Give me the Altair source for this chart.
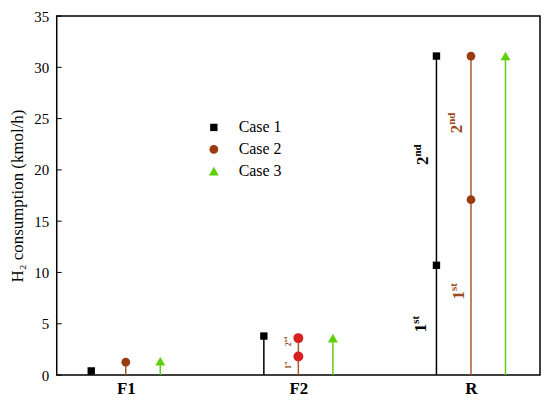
import altair as alt
import pandas as pd

# ---- data ----
categories = ["F1", "F2", "R"]
cat_pos = [1, 2, 3]
cases = ["Case 1", "Case 2", "Case 3"]
case_offset = [-0.2, 0.0, 0.2]

# points: category index, case, value
pt_cat = [1, 1, 1, 2, 2, 2, 2, 3, 3, 3, 3, 3]
pt_case = ["Case 1", "Case 2", "Case 3",
           "Case 1", "Case 2", "Case 2", "Case 3",
           "Case 1", "Case 1", "Case 2", "Case 2", "Case 3"]
pt_val = [0.4, 1.25, 1.35,
          3.8, 1.8, 3.6, 3.6,
          10.7, 31.1, 17.1, 31.1, 31.1]

# stems (from 0 to top value)
st_cat = [1, 1, 1, 2, 2, 2, 3, 3, 3]
st_case = ["Case 1", "Case 2", "Case 3"] * 3
st_top = [0.4, 1.25, 1.35, 3.8, 3.6, 3.6, 31.1, 31.1, 31.1]

# big stage labels (R) : x position, y position, main, superscript, case
lb_x = [2.737, 2.749, 2.962, 2.950]
lb_y = [5.0, 21.3, 8.2, 24.4]
lb_main = ["1", "2", "1", "2"]
lb_sup = ["st", "nd", "st", "nd"]
lb_case = ["Case 1", "Case 1", "Case 2", "Case 2"]

# small stage labels (F2)
sl_x = [1.959, 1.959]
sl_y = [0.97, 3.2]
sl_main = ["1", "2"]
sl_sup = ["st", "nd"]

y_ticks = [0, 5, 10, 15, 20, 25, 30, 35]

marker_colors = ["#000000", "#9b3b12", "#5fcf0a"]
line_colors = ["#000000", "#a65a2e", "#5fcf0a"]
label_colors = ["#000000", "#9b4a1e"]

off = dict(zip(cases, case_offset))
pts = pd.DataFrame({"cat": pt_cat, "Case": pt_case, "val": pt_val})
pts["x"] = pts["cat"] + pts["Case"].map(off)
stems = pd.DataFrame({"cat": st_cat, "stemCase": st_case, "top": st_top})
stems["x"] = stems["cat"] + stems["stemCase"].map(off)
labs = pd.DataFrame({"x": lb_x, "y": lb_y, "main": lb_main, "sup": lb_sup, "labCase": lb_case})
slabs = pd.DataFrame({"x": sl_x, "y": sl_y, "main": sl_main, "sup": sl_sup})
ticks = pd.DataFrame({"v": y_ticks})

FONT = "Liberation Serif"
xs = alt.Scale(domain=[0.6, 3.4], nice=False, zero=False)
ys = alt.Scale(domain=[0, 35], nice=False, zero=True)

label_expr = "datum.value == 1 ? 'F1' : datum.value == 2 ? 'F2' : 'R'"
x_axis = alt.Axis(values=cat_pos, labelExpr=label_expr, ticks=False, domain=False,
                  grid=False, title=None, labelFont=FONT, labelFontSize=17,
                  labelFontWeight="bold", labelColor="black", labelPadding=6)
y_axis = alt.Axis(values=y_ticks, ticks=False, domain=False, grid=False,
                  title="H₂ consumption (kmol/h)", titleFont=FONT, titleFontSize=17,
                  titleFontWeight="normal", titleColor="black", titlePadding=7,
                  labelFont=FONT, labelFontSize=15, labelColor="black", labelPadding=8)

X = lambda f: alt.X(f, scale=xs, axis=x_axis)
Y = lambda f: alt.Y(f, scale=ys, axis=y_axis)

stem_layer = alt.Chart(stems).mark_rule(strokeWidth=1.5).encode(
    x=X("x:Q"),
    y=Y("top:Q"),
    y2=alt.datum(0),
    stroke=alt.Stroke("stemCase:N", scale=alt.Scale(domain=cases, range=line_colors), legend=None),
)

leg = alt.Legend(title=None)
pt_layer = alt.Chart(pts).mark_point(filled=True, opacity=1).encode(
    x=X("x:Q"),
    y=Y("val:Q"),
    color=alt.Color("Case:N", scale=alt.Scale(domain=cases, range=marker_colors), legend=leg),
    shape=alt.Shape("Case:N", scale=alt.Scale(domain=cases, range=["square", "circle", "triangle-up"]), legend=leg),
    size=alt.Size("Case:N", scale=alt.Scale(domain=cases, range=[55, 100, 90]), legend=leg),
)

red_layer = alt.Chart(pts).transform_filter(
    "datum.cat == 2 && datum.Case == 'Case 2'"
).mark_point(filled=True, opacity=1, color="#d82020", size=100, shape="circle").encode(
    x=X("x:Q"),
    y=Y("val:Q"),
)

lab_fill = alt.Fill("labCase:N", scale=alt.Scale(domain=["Case 1", "Case 2"], range=label_colors), legend=None)
lab_main = alt.Chart(labs).mark_text(angle=270, align="right", baseline="alphabetic",
                                     font=FONT, fontSize=17, fontWeight="bold").encode(
    x=X("x:Q"), y=Y("y:Q"), text="main:N", fill=lab_fill)
lab_sup = alt.Chart(labs).mark_text(angle=270, align="left", baseline="alphabetic",
                                    font=FONT, fontSize=11, fontWeight="bold", dy=-7).encode(
    x=X("x:Q"), y=Y("y:Q"), text="sup:N", fill=lab_fill)

slab_main = alt.Chart(slabs).mark_text(angle=270, align="right", baseline="alphabetic",
                                       font=FONT, fontSize=8, fontWeight="bold",
                                       fill="#9b4a1e").encode(
    x=X("x:Q"), y=Y("y:Q"), text="main:N")
slab_sup = alt.Chart(slabs).mark_text(angle=270, align="left", baseline="alphabetic",
                                      font=FONT, fontSize=5, fontWeight="bold", dy=-4,
                                      fill="#9b4a1e").encode(
    x=X("x:Q"), y=Y("y:Q"), text="sup:N")

tick_layer = alt.Chart(ticks).mark_rule(color="black", strokeWidth=1).encode(
    y=Y("v:Q"), x=alt.value(0), x2=alt.value(5))

chart = alt.layer(
    stem_layer, pt_layer, red_layer, lab_main, lab_sup, slab_main, slab_sup, tick_layer
).properties(
    width=486, height=361,
    autosize=alt.AutoSizeParams(type="none"),
    padding={"left": 49, "top": 7, "right": 2, "bottom": 22},
    background="white",
).resolve_scale(
    stroke="independent", fill="independent"
).resolve_legend(
    stroke="independent", fill="independent"
).configure_view(
    stroke="black", strokeWidth=1.5
).configure_axis(
    labelFont=FONT, titleFont=FONT, labelColor="black", titleColor="black"
).configure_legend(
    orient="none", legendX=150, legendY=104, labelFont=FONT, labelFontSize=16,
    labelColor="black", symbolStrokeWidth=0, rowPadding=6, labelOffset=17, padding=0
)

chart.save("out.html", embed_options={"renderer": "svg", "actions": False})
